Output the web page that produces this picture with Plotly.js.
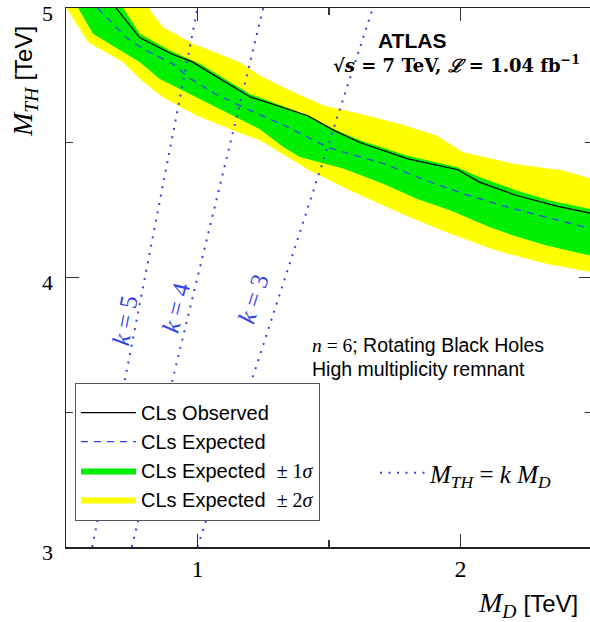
<!DOCTYPE html>
<html>
<head>
<meta charset="utf-8">
<script src="https://cdn.plot.ly/plotly-3.0.1.min.js"></script>
<style>
  html, body { margin: 0; padding: 0; overflow: hidden; background: #fff; }
  #chart { width: 600px; height: 622px; }
</style>
</head>
<body>
<div id="chart"></div>
<script>
// Exclusion contours in the (M_D, M_TH) plane, values in TeV
const obsMD  = [0.69, 0.78, 0.90, 0.98, 1.20, 1.42, 1.52, 1.62, 1.80, 1.99, 2.07, 2.21, 2.37, 2.50];
const obsMTH = [5.00, 4.89, 4.83, 4.80, 4.67, 4.60, 4.545, 4.50, 4.44, 4.40, 4.355, 4.305, 4.264, 4.237];

const expMD  = [0.62, 0.73, 0.79, 0.91, 0.97, 1.07, 1.20, 1.33, 1.50, 1.71, 1.88, 2.01, 2.18, 2.37, 2.50];
const expMTH = [5.00, 4.89, 4.85, 4.79, 4.74, 4.68, 4.62, 4.564, 4.481, 4.422, 4.356, 4.311, 4.261, 4.212, 4.18];

// +-1 sigma band edges
const sig1HiMD  = [0.717, 0.781, 0.895, 1.009, 1.199, 1.421, 1.516, 1.617, 1.795, 1.985, 2.073, 2.213, 2.34, 2.50];
const sig1HiMTH = [5.00, 4.904, 4.842, 4.793, 4.681, 4.601, 4.552, 4.509, 4.453, 4.41, 4.372, 4.323, 4.286, 4.253];
const sig1LoMD  = [0.546, 0.603, 0.781, 0.857, 0.983, 1.135, 1.237, 1.326, 1.389, 1.554, 1.706, 1.833, 1.96, 2.11, 2.20, 2.327, 2.50];
const sig1LoMTH = [5.00, 4.904, 4.799, 4.737, 4.675, 4.601, 4.55, 4.484, 4.447, 4.404, 4.348, 4.292, 4.25, 4.187, 4.156, 4.119, 4.08];

// +-2 sigma band edges
const sig2HiMD  = [0.813, 0.869, 0.983, 1.161, 1.237, 1.326, 1.478, 1.617, 1.769, 1.909, 2.01, 2.20, 2.39, 2.50];
const sig2HiMTH = [5.00, 4.929, 4.867, 4.799, 4.75, 4.706, 4.638, 4.608, 4.570, 4.527, 4.465, 4.422, 4.397, 4.366];
const sig2LoMD  = [0.502, 0.584, 0.717, 0.787, 0.869, 0.996, 1.135, 1.237, 1.427, 1.58, 1.807, 1.959, 2.137, 2.33, 2.50];
const sig2LoMTH = [5.00, 4.873, 4.799, 4.731, 4.669, 4.601, 4.546, 4.509, 4.397, 4.323, 4.224, 4.163, 4.10, 4.05, 4.02];

// Reference lines M_TH = k M_D
const kValues = [5, 4, 3];
const kLineMTH = [3.0, 5.0];

// Axis ticks
const xTicks = [1, 2];
const yTicks = [3, 4, 5];

const SERIF = '"Liberation Serif", "DejaVu Serif", serif';
const SANS = '"Liberation Sans", Arial, sans-serif';
const BLUE = '#3344ee';

function band(hiX, hiY, loX, loY) {
  return {
    x: hiX.concat(loX.slice().reverse()),
    y: hiY.concat(loY.slice().reverse())
  };
}

const b2 = band(sig2HiMD, sig2HiMTH, sig2LoMD, sig2LoMTH);
const b1 = band(sig1HiMD, sig1HiMTH, sig1LoMD, sig1LoMTH);

const sigmaText = function (n) {
  return 'CLs Expected  <span style="font-family:Liberation Serif">± ' + n + '<i>σ</i></span>';
};

const traces = [
  {
    x: b2.x, y: b2.y, type: 'scatter', mode: 'lines', fill: 'toself',
    fillcolor: '#ffff00', line: {width: 0, color: '#ffff00'},
    name: sigmaText(2), legendrank: 4, legendgroup: 'g4', hoverinfo: 'skip'
  },
  {
    x: b1.x, y: b1.y, type: 'scatter', mode: 'lines', fill: 'toself',
    fillcolor: '#00ee00', line: {width: 0, color: '#00ee00'},
    name: sigmaText(1), legendrank: 3, legendgroup: 'g3', hoverinfo: 'skip'
  },
  {
    x: obsMD, y: obsMTH, type: 'scatter', mode: 'lines',
    line: {color: '#000000', width: 1.2},
    name: 'CLs Observed', legendrank: 1, legendgroup: 'g1'
  },
  {
    x: expMD, y: expMTH, type: 'scatter', mode: 'lines',
    line: {color: BLUE, width: 1.2, dash: '7px,6px'},
    name: 'CLs Expected', legendrank: 2, legendgroup: 'g2'
  }
];

kValues.forEach(function (k, i) {
  traces.push({
    x: kLineMTH.map(function (m) { return m / k; }),
    y: kLineMTH,
    type: 'scatter', mode: 'lines',
    line: {color: BLUE, width: 2, dash: '2px,6.5px'},
    name: '<i>M<sub>TH</sub></i> = <i>k M<sub>D</sub></i>',
    legend: 'legend2',
    showlegend: i === 0
  });
});

const kLabelPos = [[0.724, 3.84], [0.917, 3.89], [1.21, 3.92]];
const kLabelAngle = [-79, -76, -72];

const annotations = [
  {text: '<b>ATLAS</b>', x: 412, y: 40, font: {family: SANS, size: 21, color: '#000'}},
  {text: '<b>√<i>s</i> = 7 TeV, <i>ℒ</i> = 1.04 fb<sup>−1</sup></b>', x: 456, y: 64,
   font: {family: '"DejaVu Serif", serif', size: 18, color: '#000'}},
  {text: '<span style="font-family:Liberation Serif"><i>n</i> = 6</span>; Rotating Black Holes',
   x: 310, y: 345, xanchor: 'left', font: {family: SANS, size: 19.5, color: '#000'}},
  {text: 'High multiplicity remnant', x: 310, y: 369, xanchor: 'left',
   font: {family: SANS, size: 19.5, color: '#000'}},
  {text: '<i>M<sub>TH</sub></i> <span style="font-family:Liberation Sans;font-size:24px">[TeV]</span>',
   x: 25, y: 82, textangle: -90, font: {family: SERIF, size: 28, color: '#000'}},
  {text: '<i>M<sub>D</sub></i> <span style="font-family:Liberation Sans;font-size:24px">[TeV]</span>',
   x: 528, y: 604, font: {family: SERIF, size: 28, color: '#000'}}
].map(function (a) {
  return Object.assign({xref: 'paper', yref: 'paper', showarrow: false}, a, {
    x: (a.x - 66) / 526,
    y: 1 - (a.y - 8) / 539,
    xanchor: a.xanchor || 'center',
    yanchor: 'middle'
  });
});

kValues.forEach(function (k, i) {
  annotations.push({
    text: '<i>k</i> = ' + k, x: kLabelPos[i][0], y: kLabelPos[i][1],
    xref: 'x', yref: 'y', showarrow: false, textangle: kLabelAngle[i],
    font: {family: SERIF, size: 25, color: BLUE}
  });
});

const axisCommon = {
  showline: true, linecolor: '#222', linewidth: 1.5, mirror: 'allticks',
  ticks: 'inside', ticklen: 13, tickwidth: 1.2, tickcolor: '#333',
  showgrid: false, zeroline: false, ticklabeloverflow: 'allow',
  minor: {dtick: 0.5, ticks: 'inside', ticklen: 7, tickwidth: 1.2, tickcolor: '#333', showgrid: false}
};

const layout = {
  width: 600, height: 622,
  margin: {l: 66, r: 8, t: 8, b: 75},
  paper_bgcolor: '#fff', plot_bgcolor: '#fff',
  xaxis: Object.assign({}, axisCommon, {
    range: [0.5, 2.5], tickvals: xTicks, ticktext: xTicks.map(String), ticklabelstandoff: 0,
    tickfont: {family: SERIF, size: 24, color: '#000'}
  }),
  yaxis: Object.assign({}, axisCommon, {
    range: [3, 5], tickvals: yTicks, ticktext: yTicks.map(String), ticklabelstandoff: 7,
    ticklabelshift: 5, tickfont: {family: SERIF, size: 22, color: '#000'}
  }),
  showlegend: true,
  legend: {
    x: (75 - 66) / 526, y: 1 - (383 - 8) / 539, xanchor: 'left', yanchor: 'top',
    bgcolor: '#fff', bordercolor: '#555', borderwidth: 1,
    font: {family: SANS, size: 20, color: '#000'},
    title: {text: '&nbsp;', font: {size: 7}},
    traceorder: 'normal', tracegroupgap: 1, itemwidth: 55
  },
  legend2: {
    x: (375 - 66) / 526, y: 1 - (450 - 8) / 539, xanchor: 'left', yanchor: 'top',
    bgcolor: 'rgba(0,0,0,0)', borderwidth: 0, itemwidth: 45,
    font: {family: SERIF, size: 25, color: '#000'}
  },
  annotations: annotations
};

Plotly.newPlot('chart', traces, layout, {staticPlot: true, displayModeBar: false});
</script>
</body>
</html>
